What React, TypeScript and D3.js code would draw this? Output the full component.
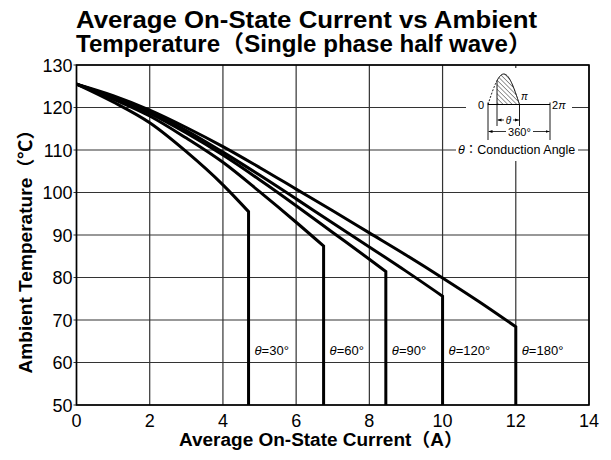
import React from "react";
import * as d3 from "d3";

const xTicks = [0, 2, 4, 6, 8, 10, 12, 14];
const yTicks = [50, 60, 70, 80, 90, 100, 110, 120, 130];

const current30 = [0, 1, 2, 3, 4, 4.7];
const temp30 = [125.5, 121.3, 116.4, 109.6, 101.8, 95.5];
const current60 = [0, 1, 2, 3, 4, 5, 6, 6.75];
const temp60 = [125.5, 122, 118, 112.8, 107.1, 100.2, 93, 87.4];
const current90 = [0, 1, 2, 3, 4, 5, 6, 7, 8, 8.45];
const temp90 = [125.5, 122.3, 118.6, 114, 108.8, 103, 96.9, 90.6, 84.3, 81.4];
const current120 = [0, 1, 2, 3, 4, 5, 6, 7, 8, 9, 10];
const temp120 = [125.5, 122.5, 119, 114.6, 109.5, 104.1, 98.5, 92.8, 87.2, 81.5, 75.6];
const current180 = [0, 1, 2, 3, 4, 5, 6, 7, 8, 9, 10, 11, 12];
const temp180 = [125.5, 122.8, 119.4, 115.3, 110.8, 105.9, 100.8, 95.7, 90.5, 85.3, 79.9, 74.3, 68.4];

const angleLabels = ["30°", "60°", "90°", "120°", "180°"];
const currents = [current30, current60, current90, current120, current180];
const temps = [temp30, temp60, temp90, temp120, temp180];

const W = 611;
const H = 460;
const L = 76.5, R = 589, T = 65, B = 405;

const FONT = "'Liberation Sans', Arial, 'Noto Sans CJK JP', sans-serif";

export default function App() {
  const x = d3.scaleLinear().domain([0, 14]).range([L, R]);
  const y = d3.scaleLinear().domain([50, 130]).range([B, T]);
  const line = d3
    .line<[number, number]>()
    .x((d) => x(d[0]))
    .y((d) => y(d[1]))
    .curve(d3.curveMonotoneX);

  const paths = currents.map((cs, i) => {
    const pts = cs.map((c, j) => [c, temps[i][j]] as [number, number]);
    const last = cs[cs.length - 1];
    return line(pts) + `L${x(last)},${y(50)}`;
  });

  // inset geometry (decoration)
  const x0 = 488, xpi = 519.5, x2pi = 550, yb = 104.5, amp = 30.5;
  const xs = 497;
  const sinePt = (px: number) => yb - amp * Math.sin(((px - x0) / (xpi - x0)) * Math.PI);
  const dashPts: [number, number][] = d3.range(x0, xs + 0.01, 0.5).map((p) => [p, sinePt(p)]);
  const solidPts: [number, number][] = d3.range(xs, xpi + 0.01, 0.5).map((p) => [p, sinePt(p)]);
  const rawLine = d3.line<[number, number]>().x((d) => d[0]).y((d) => d[1]);
  const hatchArea = rawLine(solidPts) + `L${xpi},${yb}L${xs},${yb}Z`;

  return (
    <svg width={W} height={H} style={{ position: "absolute", left: 0, top: 0, background: "#fff" }} fontFamily={FONT}>
      <defs>
        <pattern id="hatch" patternUnits="userSpaceOnUse" width="3.2" height="3.2" patternTransform="rotate(-45)">
          <line x1="0" y1="0" x2="0" y2="3.2" stroke="#000" strokeWidth="0.8" />
        </pattern>
        <marker id="arr" viewBox="0 0 6 6" refX="6" refY="3" markerWidth="5" markerHeight="5" orient="auto-start-reverse">
          <path d="M0,0.8 L6,3 L0,5.2 Z" fill="#000" />
        </marker>
      </defs>
      <rect x={0} y={0} width={W} height={H} fill="#fff" />

      {/* grid */}
      {xTicks.map((t) => (
        <line key={"gx" + t} x1={x(t)} x2={x(t)} y1={T} y2={B} stroke="#333" strokeWidth={1.2} />
      ))}
      {yTicks.map((t) => (
        <line key={"gy" + t} x1={L - 3} x2={R} y1={y(t)} y2={y(t)} stroke="#333" strokeWidth={1.2} />
      ))}
      <rect x={L} y={T} width={R - L} height={B - T} fill="none" stroke="#000" strokeWidth={1.6} />

      {/* tick labels */}
      {xTicks.map((t) => (
        <text key={"tx" + t} x={x(t)} y={427} textAnchor="middle" fontSize={18}>
          {t}
        </text>
      ))}
      {yTicks.map((t) => (
        <text key={"ty" + t} x={L - 4} y={y(t) + 6.5} textAnchor="end" fontSize={18}>
          {t}
        </text>
      ))}

      {/* curves */}
      {paths.map((d, i) => (
        <path key={"c" + i} d={d} fill="none" stroke="#000" strokeWidth={3} strokeLinejoin="miter" />
      ))}

      {/* curve labels */}
      {currents.map((cs, i) => (
        <text key={"lab" + i} x={x(cs[cs.length - 1]) + 6} y={y(61.8)} fontSize={13}>
          <tspan fontStyle="italic">θ</tspan>={angleLabels[i]}
        </text>
      ))}

      {/* inset */}
      <rect x={466} y={68} width={106} height={76} fill="#fff" />
      <rect x={456} y={141} width={122} height={20} fill="#fff" />
      <path d={rawLine(dashPts) || ""} fill="none" stroke="#000" strokeWidth={0.9} strokeDasharray="2,1.5" />
      <path d={hatchArea} fill="url(#hatch)" stroke="none" />
      <path d={rawLine(solidPts) || ""} fill="none" stroke="#000" strokeWidth={1} />
      <line x1={xs} x2={xs} y1={sinePt(xs)} y2={126} stroke="#000" strokeWidth={0.9} />
      <line x1={xpi} x2={xpi} y1={yb} y2={126} stroke="#000" strokeWidth={0.9} />
      <line x1={x0} x2={x2pi} y1={yb} y2={yb} stroke="#000" strokeWidth={1.2} />
      <line x1={x0} x2={x0} y1={yb - 2} y2={140} stroke="#000" strokeWidth={0.9} />
      <line x1={x2pi} x2={x2pi} y1={yb - 2} y2={140} stroke="#000" strokeWidth={0.9} />
      <text x={484} y={109} textAnchor="end" fontSize={11}>0</text>
      <text x={521} y={100} fontSize={10} fontStyle="italic">π</text>
      <text x={552} y={108.5} fontSize={11}>2<tspan fontStyle="italic">π</tspan></text>
      {/* theta dimension */}
      <line x1={504} x2={xs + 0.5} y1={120} y2={120} stroke="#000" strokeWidth={0.8} markerEnd="url(#arr)" />
      <line x1={513} x2={xpi - 0.5} y1={120} y2={120} stroke="#000" strokeWidth={0.8} markerEnd="url(#arr)" />
      <text x={508.5} y={123.5} textAnchor="middle" fontSize={10} fontStyle="italic">θ</text>
      {/* 360 dimension */}
      <line x1={506} x2={x0 + 0.5} y1={131.5} y2={131.5} stroke="#000" strokeWidth={0.8} markerEnd="url(#arr)" />
      <line x1={533} x2={x2pi - 0.5} y1={131.5} y2={131.5} stroke="#000" strokeWidth={0.8} markerEnd="url(#arr)" />
      <text x={519.5} y={135.5} textAnchor="middle" fontSize={11}>360°</text>
      <text x={458} y={153.5} fontSize={12.5}>
        <tspan fontStyle="italic">θ</tspan>：Conduction Angle
      </text>

      {/* titles */}
      <text x={76} y={28} fontSize={23} fontWeight="bold" textLength={461} lengthAdjust="spacingAndGlyphs">
        Average On-State Current vs Ambient
      </text>
      <text x={76} y={52} fontSize={23} fontWeight="bold" textLength={456} lengthAdjust="spacingAndGlyphs">
        Temperature（Single phase half wave）
      </text>
      <text x={321} y={446} textAnchor="middle" fontSize={18} fontWeight="bold" textLength={284} lengthAdjust="spacingAndGlyphs">
        Average On-State Current（A）
      </text>
      <text
        transform="translate(32,247) rotate(-90)"
        x={0}
        y={0}
        textAnchor="middle"
        fontSize={18}
        fontWeight="bold"
        textLength={253}
        lengthAdjust="spacingAndGlyphs"
      >
        Ambient Temperature（℃）
      </text>
    </svg>
  );
}
